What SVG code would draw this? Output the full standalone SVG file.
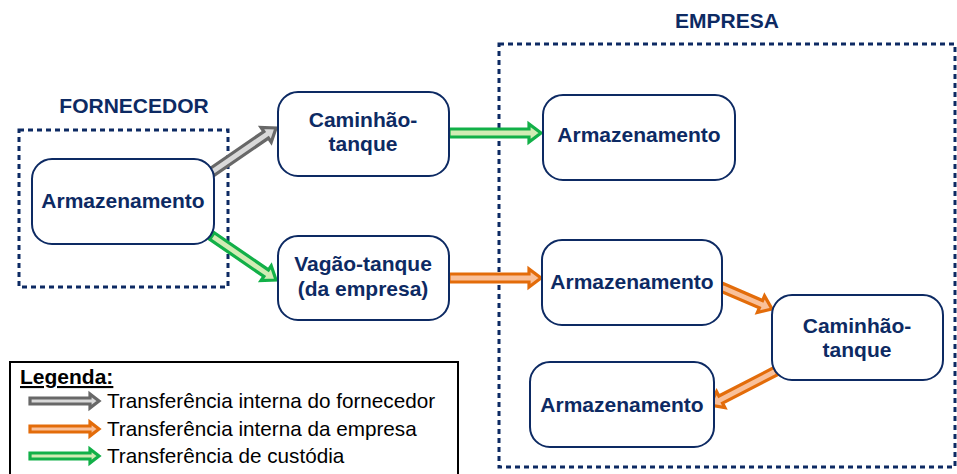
<svg xmlns="http://www.w3.org/2000/svg" width="957" height="474" viewBox="0 0 957 474">
<style>
.bg{fill:#ffffff}
.region{fill:none;stroke:#0d2a63;stroke-width:3;stroke-dasharray:5 4}
.rlabel{font-family:"Liberation Sans",Arial,sans-serif;font-weight:bold;font-size:21px;fill:#0d2a63;text-anchor:middle}
.box{fill:#ffffff;stroke:#0d2a63;stroke-width:2}
.ntext{font-family:"Liberation Sans",Arial,sans-serif;font-weight:bold;font-size:21px;fill:#0d2a63;text-anchor:middle}
.gray{fill:#d9d9d9;stroke:#686868;stroke-width:3.2;stroke-linejoin:miter}
.orange{fill:#f9c09a;stroke:#e36c0a;stroke-width:3.2;stroke-linejoin:miter}
.green{fill:#d2ecb4;stroke:#12b048;stroke-width:3.2;stroke-linejoin:miter}
.legbox{fill:#ffffff;stroke:#000000;stroke-width:2}
.legtitle{font-family:"Liberation Sans",Arial,sans-serif;font-weight:bold;font-size:21px;fill:#000000;text-decoration:underline}
.legtext{font-family:"Liberation Sans",Arial,sans-serif;font-size:20.7px;fill:#000000}
</style>
<rect class="bg" x="0" y="0" width="957" height="474"/>

<g id="region-fornecedor">
  <rect class="region" x="19" y="130" width="209" height="157"/>
  <text class="rlabel" x="134" y="113">FORNECEDOR</text>
</g>
<g id="region-empresa">
  <rect class="region" x="499" y="44" width="456" height="423"/>
  <text class="rlabel" x="727" y="28">EMPRESA</text>
</g>

<g id="connectors">
  <polygon class="gray" transform="translate(212,172) rotate(-34.5)" points="0,-4 65.7,-4 65.7,-9 77.7,0 65.7,9 65.7,4 0,4"/>
  <polygon class="green" transform="translate(212,236) rotate(34.5)" points="0,-4 65.7,-4 65.7,-9 77.7,0 65.7,9 65.7,4 0,4"/>
  <polygon class="green" transform="translate(449,133)" points="0,-4 80,-4 80,-9 92,0 80,9 80,4 0,4"/>
  <polygon class="orange" transform="translate(449,278)" points="0,-4 80,-4 80,-9 92,0 80,9 80,4 0,4"/>
  <polygon class="orange" transform="translate(721,287) rotate(23.3)" points="0,-4 43.5,-4 43.5,-9 55.5,0 43.5,9 43.5,4 0,4"/>
  <polygon class="orange" transform="translate(776,371) rotate(152.7)" points="0,-4 62.2,-4 62.2,-9 74.2,0 62.2,9 62.2,4 0,4"/>
</g>

<g id="forn-armazenamento">
  <rect class="box" x="32" y="159" width="182" height="85" rx="20"/>
  <text class="ntext" x="123" y="208">Armazenamento</text>
</g>
<g id="caminhao-tanque-1">
  <rect class="box" x="278" y="92" width="171" height="84" rx="20"/>
  <text class="ntext" x="363" y="127">Caminhão-</text>
  <text class="ntext" x="363" y="151">tanque</text>
</g>
<g id="vagao-tanque">
  <rect class="box" x="278" y="236" width="171" height="84" rx="20"/>
  <text class="ntext" x="363" y="271">Vagão-tanque</text>
  <text class="ntext" x="363" y="296">(da empresa)</text>
</g>
<g id="emp-armazenamento-1">
  <rect class="box" x="543" y="95" width="192" height="85" rx="20"/>
  <text class="ntext" x="639" y="142">Armazenamento</text>
</g>
<g id="emp-armazenamento-2">
  <rect class="box" x="542" y="240" width="180" height="85" rx="20"/>
  <text class="ntext" x="632" y="289">Armazenamento</text>
</g>
<g id="caminhao-tanque-2">
  <rect class="box" x="772" y="295" width="171" height="85" rx="20"/>
  <text class="ntext" x="857" y="333">Caminhão-</text>
  <text class="ntext" x="857" y="357">tanque</text>
</g>
<g id="emp-armazenamento-3">
  <rect class="box" x="530" y="362" width="184" height="85" rx="20"/>
  <text class="ntext" x="622" y="412">Armazenamento</text>
</g>

<g id="legend">
  <rect class="legbox" x="10" y="362" width="448" height="120"/>
  <text class="legtitle" x="20" y="384">Legenda:</text>
  <polygon class="gray" transform="translate(30,401)" points="0,-3 60,-3 60,-7 69,0 60,7 60,3 0,3"/>
  <text class="legtext" x="107" y="408">Transferência interna do fornecedor</text>
  <polygon class="orange" transform="translate(30,429)" points="0,-3 60,-3 60,-7 69,0 60,7 60,3 0,3"/>
  <text class="legtext" x="107" y="436">Transferência interna da empresa</text>
  <polygon class="green" transform="translate(30,456)" points="0,-3 60,-3 60,-7 69,0 60,7 60,3 0,3"/>
  <text class="legtext" x="107" y="463">Transferência de custódia</text>
</g>
</svg>
